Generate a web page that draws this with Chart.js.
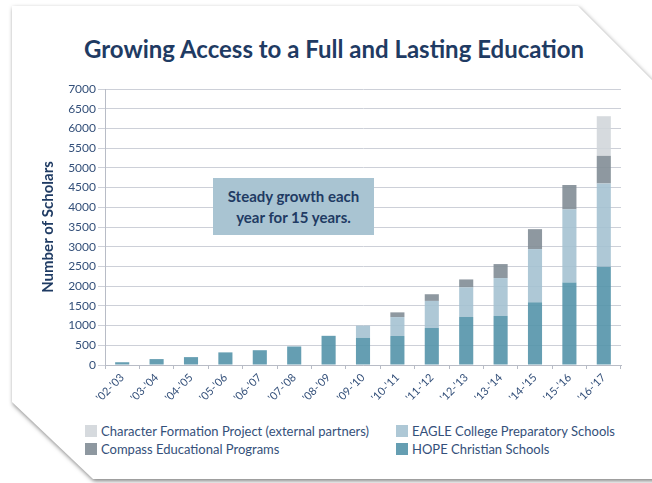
<!DOCTYPE html>
<html lang="en">
<head>
    <meta charset="UTF-8">
    <title>Growing Access to a Full and Lasting Education</title>
    <style>
        html, body {
            margin: 0;
            padding: 0;
            background: #ffffff;
            font-family: Lato, "Open Sans", sans-serif;
        }

        #stage {
            position: relative;
            width: 652px;
            height: 483px;
            overflow: hidden;
        }

        #shadow {
            position: absolute;
            left: 0;
            top: 0;
            width: 660px;
            height: 483px;
            filter: drop-shadow(1px 2px 2px rgba(0, 0, 0, 0.5));
        }

        #card {
            position: absolute;
            left: 0;
            top: 0;
            width: 660px;
            height: 483px;
            background: #ffffff;
            clip-path: polygon(12px 6px, 578px 6px, 660px 88px, 660px 479px, 93px 479px, 12px 402px);
        }

        #title {
            position: absolute;
            left: 0;
            width: 668px;
            top: 34px;
            margin: 0;
            text-align: center;
            font-size: 24px;
            font-weight: bold;
            color: #1f3b63;
        }

        #chartBox {
            position: absolute;
            left: 0;
            top: 0;
            width: 652px;
            height: 420px;
        }

        #note {
            position: absolute;
            left: 213px;
            top: 178px;
            width: 161px;
            height: 57px;
            background: #a9c4d2;
            color: #1f3b63;
            font-weight: bold;
            font-size: 15px;
            line-height: 21px;
            text-align: center;
            box-sizing: border-box;
            padding-top: 8px;
        }

        #legend {
            position: absolute;
            left: 85px;
            top: 422px;
            width: 540px;
            display: grid;
            grid-template-columns: 311px 220px;
            grid-auto-flow: column;
            grid-template-rows: 18px 18px;
            font-size: 13px;
            color: #34507a;
        }

        .item { display: flex; align-items: center; white-space: nowrap; }
        .swatch { width: 12px; height: 12px; margin-right: 4px; flex: none; }
    </style>
    <script src="https://cdn.jsdelivr.net/npm/chart.js"></script>
</head>
<body>
<div id="stage">
    <div id="shadow"><div id="card"></div></div>
    <h1 id="title">Growing Access to a Full and Lasting Education</h1>
    <div id="chartBox"><canvas id="scholarsChart" width="652" height="420"></canvas></div>
    <div id="note">Steady growth each<br>year for 15 years.</div>
    <div id="legend"></div>
</div>

<script>
    const years = ["'02-'03", "'03-'04", "'04-'05", "'05-'06", "'06-'07", "'07-'08", "'08-'09", "'09-'10",
                   "'10-'11", "'11-'12", "'12-'13", "'13-'14", "'14-'15", "'15-'16", "'16-'17"];

    const hope      = [70, 150, 200, 320, 375, 470, 740, 690, 735, 940, 1220, 1245, 1590, 2090, 2495];
    const eagle     = [0, 0, 0, 0, 0, 0, 0, 310, 480, 685, 750, 960, 1350, 1860, 2110];
    const compass   = [0, 0, 0, 0, 0, 0, 0, 0, 120, 170, 200, 355, 505, 615, 700];
    const character = [0, 0, 0, 0, 0, 0, 0, 0, 0, 0, 0, 0, 0, 0, 1005];

    const navy = '#34507a';
    const gridColor = '#cdd0d8';

    const chart = new Chart(document.getElementById('scholarsChart').getContext('2d'), {
        type: 'bar',
        data: {
            labels: years,
            datasets: [
                { label: 'HOPE Christian Schools', data: hope, backgroundColor: 'rgba(84,148,170,0.9)' },
                { label: 'EAGLE College Preparatory Schools', data: eagle, backgroundColor: 'rgba(163,192,208,0.88)' },
                { label: 'Compass Educational Programs', data: compass, backgroundColor: 'rgba(130,141,150,0.9)' },
                { label: 'Character Formation Project (external partners)', data: character, backgroundColor: 'rgba(208,213,218,0.88)' }
            ]
        },
        options: {
            responsive: false,
            animation: false,
            barPercentage: 0.41,
            categoryPercentage: 1,
            layout: { padding: { top: 89, right: 31, left: 0, bottom: 0 } },
            plugins: { legend: { display: false }, tooltip: { enabled: false } },
            scales: {
                x: {
                    stacked: true,
                    grid: { drawOnChartArea: false, drawTicks: true, tickLength: 4, color: '#b8bcc6', offset: true },
                    border: { color: '#b8bcc6' },
                    ticks: { color: navy, font: { family: 'Lato', size: 11 }, minRotation: 45, maxRotation: 45, padding: 2 },
                    afterFit: s => { s.height = 55; }
                },
                y: {
                    stacked: true,
                    min: 0,
                    max: 7000,
                    grid: { color: gridColor, tickLength: 7 },
                    border: { color: '#b8bcc6' },
                    ticks: {
                        stepSize: 500,
                        color: navy,
                        font: { family: 'Lato', size: 12 },
                        padding: 2,
                        callback: v => String(v)
                    },
                    title: {
                        display: true,
                        text: 'Number of Scholars',
                        color: '#1f3b63',
                        font: { family: 'Lato', size: 15, weight: 'bold' },
                        padding: { top: 39, bottom: 0 }
                    },
                    afterFit: s => { s.width = 105; }
                }
            }
        }
    });

    // legend: two columns, top of stack first
    const legend = document.getElementById('legend');
    [3, 2, 1, 0].forEach(i => {
        const ds = chart.data.datasets[i];
        const item = document.createElement('div');
        item.className = 'item';
        item.innerHTML = '<span class="swatch" style="background:' + ds.backgroundColor + '"></span>' + ds.label;
        legend.appendChild(item);
    });
</script>
</body>
</html>
